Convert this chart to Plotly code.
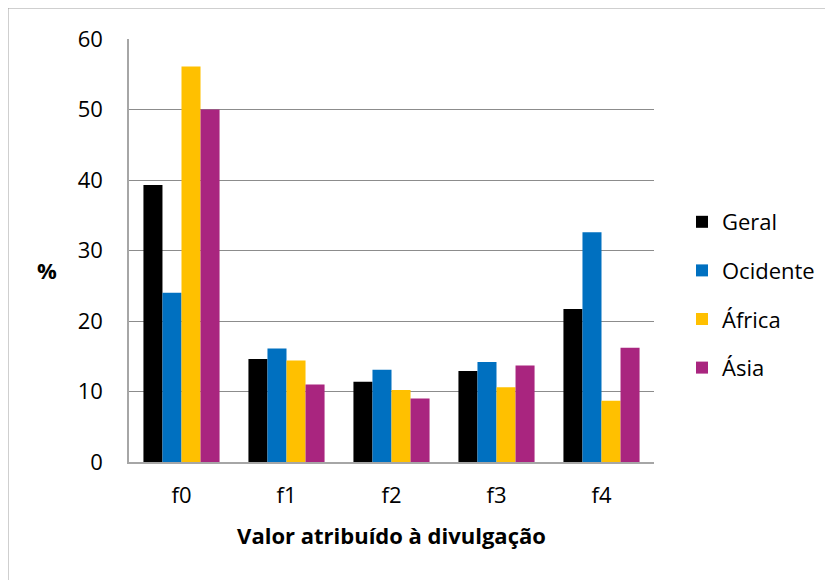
import plotly.graph_objects as go

categories = ["f0", "f1", "f2", "f3", "f4"]
geral = [39.3, 14.6, 11.4, 12.9, 21.7]
ocidente = [24.0, 16.1, 13.1, 14.2, 32.6]
africa = [56.1, 14.4, 10.2, 10.6, 8.7]
asia = [50.0, 11.0, 9.0, 13.7, 16.2]
y_ticks = [0, 10, 20, 30, 40, 50, 60]

series = [
    ("Geral", geral, "#000000"),
    ("Ocidente", ocidente, "#0070C0"),
    ("África", africa, "#FFC000"),
    ("Ásia", asia, "#A9257F"),
]

FONT = "Open Sans"
FS = 22
fig = go.Figure()
for name, vals, color in series:
    fig.add_trace(go.Bar(
        x=categories, y=vals, name=name, legendgroup=name,
        marker=dict(color=color, line=dict(width=0)),
    ))

OFF = 8  # page body margin
W, H = 833 - OFF, 580 - OFF
L, R, T, B = 129 - OFF, 179, 39 - OFF, 118
pw, ph = W - L - R, H - T - B

def px_x(x):
    return (x - OFF - L) / pw

def px_y(y):
    return (462 - y) / ph

fig.update_layout(
    width=W, height=H,
    margin=dict(l=L, r=R, t=T, b=B),
    paper_bgcolor="white", plot_bgcolor="white",
    barmode="group", bargap=0.275, bargroupgap=0,
    font=dict(family=FONT, size=FS, color="#000000"),
    xaxis=dict(
        showgrid=False, showline=True, linecolor="#a6a6a6", linewidth=1.5,
        ticks="", tickfont=dict(size=FS), ticklabelstandoff=13,
        title=dict(text="<b>Valor atribuído à divulgação</b>", font=dict(size=FS), standoff=20),
    ),
    yaxis=dict(
        range=[0, 60], tickvals=y_ticks, showgrid=True, gridcolor="#8c8c8c", gridwidth=1,
        showline=True, linecolor="#a6a6a6", linewidth=1.5, ticks="",
        tickfont=dict(size=FS), ticklabelstandoff=20, zeroline=False,
    ),
    legend=dict(
        x=px_x(682), y=px_y(201), xanchor="left", yanchor="top",
        font=dict(size=FS), tracegroupgap=17, itemwidth=30,
        bgcolor="rgba(0,0,0,0)",
    ),
    showlegend=True,
    annotations=[dict(
        text="<b>%</b>", xref="paper", yref="paper",
        x=px_x(47), y=px_y(270), showarrow=False,
        font=dict(size=FS), xanchor="center", yanchor="middle",
    )],
    shapes=[dict(
        type="rect", xref="paper", yref="paper",
        x0=px_x(8), y0=-0.5, x1=1.5, y1=px_y(8),
        line=dict(color="#a0a0a0", width=1), fillcolor="rgba(0,0,0,0)", layer="below",
    )],
)

fig.write_html("out.html")
